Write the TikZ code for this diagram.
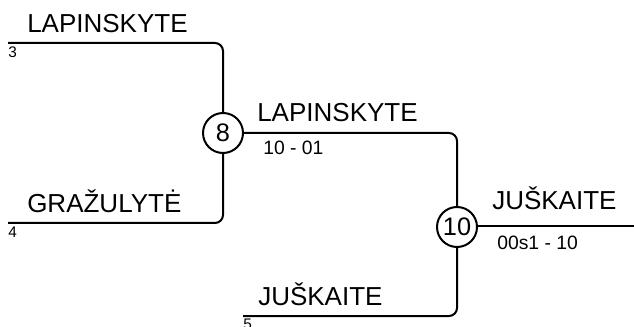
\documentclass[tikz,border=0pt]{standalone}
\usepackage{fontspec}
\setmainfont{Liberation Sans}
\usetikzlibrary{positioning, calc}
\tikzset{
  bline/.style={line width=1.5pt, rounded corners=6pt},
  matchc/.style={
    circle, draw, line width=1.5pt, fill=white,
    minimum size=30pt, inner sep=0pt, font=\fontsize{19}{19}\selectfont
  },
  pname/.style={anchor=base west, inner sep=0pt, font=\fontsize{19.5}{19.5}\selectfont},
  seedno/.style={anchor=north west, inner sep=0pt, font=\fontsize{11.5}{11.5}\selectfont},
  score/.style={anchor=base west, inner sep=0pt, font=\fontsize{14.5}{14.5}\selectfont}
}
\begin{document}
\begin{tikzpicture}[x=0.75pt, y=-0.75pt]
  \useasboundingbox (0,0) rectangle (634,327);
  % matches
  \node[matchc] (m8) at (223,133) {8};
  \node[matchc] (m10) at (457,227) {10};
  % line ends
  \coordinate (p3) at (8,43);
  \coordinate (p4) at (8,223);
  \coordinate (p5) at (243,316);
  \coordinate (win) at (634,226);
  % bracket lines
  \draw[bline] (p3) -| (m8.north);
  \draw[bline] (p4) -| (m8.south);
  \draw[bline] (m8.east) -| (m10.north);
  \draw[bline] (p5) -| (m10.south);
  \draw[bline] (m10.east |- win) -- (win);
  % names
  \node[pname] (n3) at (27,33) {LAPINSKYTE};
  \node[pname] (n4) at (27,213) {GRAŽULYTĖ};
  \node[pname] (n8) at (257,122) {LAPINSKYTE};
  \node[pname] (n5) at (258,305) {JUŠKAITE};
  \node[pname] (n10) at (492,210) {JUŠKAITE};
  % seeds and scores
  \node[seedno] (s3) at (8,47) {3};
  \node[seedno] (s4) at (8,227) {4};
  \node[seedno] (s5) at (243,319) {5};
  \node[score] (r8) at (263,155) {10 - 01};
  \node[score] (r10) at (497,250) {00s1 - 10};
\end{tikzpicture}
\end{document}
